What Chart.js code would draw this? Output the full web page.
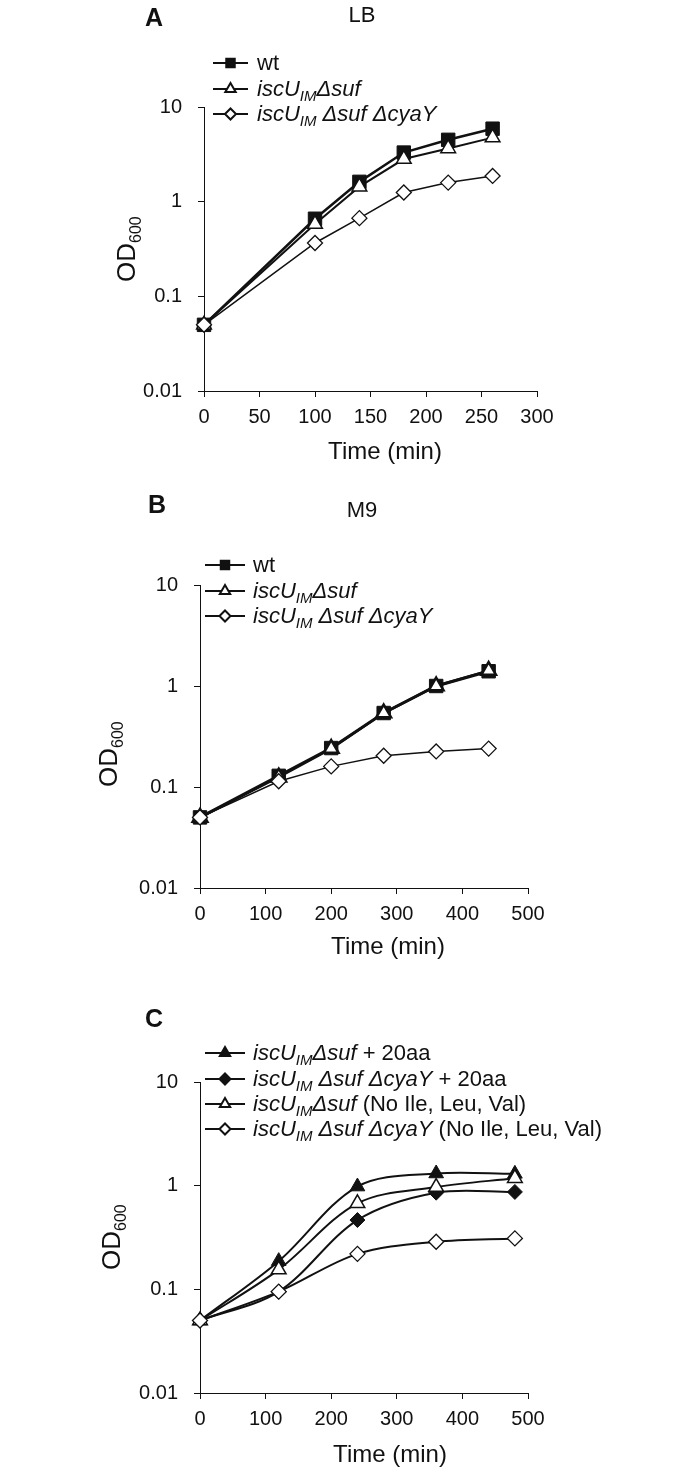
<!DOCTYPE html>
<html>
<head>
<meta charset="utf-8">
<script src="https://cdn.jsdelivr.net/npm/chart.js@4.4.1/dist/chart.umd.min.js"></script>
<style>
  html, body { margin: 0; padding: 0; background: #fff; }
  body { width: 700px; height: 1473px; position: relative; overflow: hidden; }
  canvas { position: absolute; left: 0; }
</style>
</head>
<body>
<canvas id="chartA" width="700" height="480" style="top:0px"></canvas>
<canvas id="chartB" width="700" height="500" style="top:480px"></canvas>
<canvas id="chartC" width="700" height="493" style="top:980px"></canvas>
<script>
// Panel A - LB medium
const timeA = [0, 100, 140, 180, 220, 260];
const wtA   = [0.05, 0.66, 1.62, 3.3, 4.5, 5.9];
const sufA  = [0.05, 0.58, 1.44, 2.82, 3.65, 4.75];
const cyaA  = [0.05, 0.366, 0.67, 1.25, 1.59, 1.87];

// Panel B - M9 medium
const timeB = [0, 120, 200, 280, 360, 440];
const wtB   = [0.05, 0.129, 0.243, 0.54, 1.0, 1.40];
const sufB  = [0.05, 0.125, 0.24, 0.54, 1.0, 1.42];
const cyaB  = [0.05, 0.114, 0.16, 0.204, 0.225, 0.24];

// Panel C - M9 +/- amino acids
const timeC   = [0, 120, 240, 360, 480];
const suf20C  = [0.05, 0.187, 0.98, 1.31, 1.3];
const cya20C  = [0.05, 0.095, 0.466, 0.856, 0.87];
const sufNoC  = [0.05, 0.155, 0.675, 0.97, 1.18];
const cyaNoC  = [0.05, 0.095, 0.22, 0.288, 0.31];

// Axis ticks
const yTicks   = [0.01, 0.1, 1, 10];
const xTicksA  = [0, 50, 100, 150, 200, 250, 300];
const xTicksBC = [0, 100, 200, 300, 400, 500];

// Legend text: [text, style] with style '' normal, 'i' italic, 's' italic subscript
const legendAB = [
    [['wt', '']],
    [['iscU', 'i'], ['IM', 's'], ['Δsuf', 'i']],
    [['iscU', 'i'], ['IM', 's'], [' Δsuf ΔcyaY', 'i']]
];
const legendC = [
    [['iscU', 'i'], ['IM', 's'], ['Δsuf', 'i'], [' + 20aa', '']],
    [['iscU', 'i'], ['IM', 's'], [' Δsuf ΔcyaY', 'i'], [' + 20aa', '']],
    [['iscU', 'i'], ['IM', 's'], ['Δsuf', 'i'], [' (No Ile, Leu, Val)', '']],
    [['iscU', 'i'], ['IM', 's'], [' Δsuf ΔcyaY', 'i'], [' (No Ile, Leu, Val)', '']]
];

const FONT = '"Liberation Sans", Arial, sans-serif';
const INK = '#111';

function pts(xs, ys) {
    return xs.map((x, i) => ({ x: x, y: ys[i] }));
}

function series(label, xs, ys, style) {
    return Object.assign({
        label: label,
        data: pts(xs, ys),
        borderColor: INK,
        pointBorderColor: INK,
        clip: false,
        tension: 0
    }, style);
}

const squareStyle   = { pointStyle: 'rect', pointRadius: 9.5, pointBackgroundColor: INK, pointBorderWidth: 1 };
const triOpenStyle  = { pointStyle: 'triangle', pointRadius: 8.5, pointBackgroundColor: '#fff', pointBorderWidth: 1.5 };
const diaOpenStyle  = { pointStyle: 'rectRot', pointRadius: 7.5, pointBackgroundColor: '#fff', pointBorderWidth: 1.3 };
const triFillStyle  = { pointStyle: 'triangle', pointRadius: 8.5, pointBackgroundColor: INK, pointBorderWidth: 1 };
const diaFillStyle  = { pointStyle: 'rectRot', pointRadius: 7.5, pointBackgroundColor: INK, pointBorderWidth: 1 };

function drawSegments(ctx, segs, x, y) {
    segs.forEach(([t, s]) => {
        const size = s === 's' ? 15 : 22;
        ctx.font = (s ? 'italic ' : '') + size + 'px ' + FONT;
        ctx.fillText(t, x, s === 's' ? y + 5 : y);
        x += ctx.measureText(t).width;
    });
}

// Draws the panel letter, medium label, axis titles and the legend
const panelText = {
    id: 'panelText',
    afterDraw(chart, args, o) {
        const ctx = chart.ctx;
        ctx.save();
        ctx.fillStyle = INK;
        ctx.strokeStyle = INK;
        ctx.textAlign = 'center';
        ctx.textBaseline = 'middle';
        ctx.font = 'bold 25px ' + FONT;
        ctx.fillText(o.letter[0], o.letter[1], o.letter[2]);
        if (o.medium) {
            ctx.font = '22px ' + FONT;
            ctx.fillText(o.medium[0], o.medium[1], o.medium[2]);
        }
        ctx.font = '24px ' + FONT;
        ctx.fillText('Time (min)', o.xTitle[0], o.xTitle[1]);

        // y title, rotated
        ctx.save();
        ctx.translate(o.yTitle[0], o.yTitle[1]);
        ctx.rotate(-Math.PI / 2);
        ctx.textAlign = 'left';
        ctx.textBaseline = 'alphabetic';
        ctx.font = '26px ' + FONT;
        ctx.fillText('OD', 0, 0);
        const w = ctx.measureText('OD').width;
        ctx.font = '16px ' + FONT;
        ctx.fillText('600', w, 6);
        ctx.restore();

        // legend
        const lg = o.legend;
        ctx.textAlign = 'left';
        ctx.textBaseline = 'alphabetic';
        lg.rows.forEach((y, i) => {
            const ds = chart.data.datasets[i];
            ctx.lineWidth = 2;
            ctx.beginPath();
            ctx.moveTo(lg.x0, y);
            ctx.lineTo(lg.x1, y);
            ctx.stroke();
            ctx.fillStyle = ds.pointBackgroundColor;
            ctx.strokeStyle = INK;
            Chart.helpers.drawPoint(ctx, {
                pointStyle: ds.pointStyle,
                radius: ds.pointStyle === 'rectRot' ? 5.5 : 6,
                borderWidth: 1.2,
                rotation: 0
            }, (lg.x0 + lg.x1) / 2, y);
            ctx.fillStyle = INK;
            drawSegments(ctx, lg.labels[i], lg.tx, y + 7);
        });
        ctx.restore();
    }
};

function makeChart(id, cfg) {
    const tickFont = { family: FONT, size: 20 };
    return new Chart(document.getElementById(id), {
        type: 'line',
        data: { datasets: cfg.datasets },
        options: {
            responsive: false,
            animation: false,
            events: [],
            layout: { padding: { left: 0, right: cfg.padRight, top: cfg.padTop, bottom: 0 } },
            plugins: {
                legend: { display: false },
                tooltip: { enabled: false },
                panelText: cfg.text
            },
            scales: {
                x: {
                    type: 'linear',
                    min: cfg.xTicks[0],
                    max: cfg.xTicks[cfg.xTicks.length - 1],
                    afterBuildTicks: s => { s.ticks = cfg.xTicks.map(v => ({ value: v })); },
                    ticks: { font: tickFont, color: INK, padding: 8, maxRotation: 0 },
                    grid: { drawOnChartArea: false, tickLength: 6, color: INK },
                    border: { color: INK, width: 1 },
                    afterFit: s => { s.height = cfg.xHeight; }
                },
                y: {
                    type: 'logarithmic',
                    min: yTicks[0],
                    max: yTicks[yTicks.length - 1],
                    afterBuildTicks: s => { s.ticks = yTicks.map(v => ({ value: v })); },
                    ticks: { font: tickFont, color: INK, padding: 16, callback: v => String(v) },
                    grid: { drawOnChartArea: false, tickLength: 6, color: INK },
                    border: { color: INK, width: 1 },
                    afterFit: s => { s.width = cfg.yWidth; }
                }
            }
        },
        plugins: [panelText]
    });
}

makeChart('chartA', {
    xTicks: xTicksA,
    yWidth: 204, padRight: 163, padTop: 107, xHeight: 89,
    datasets: [
        series('wt', timeA, wtA, Object.assign({ borderWidth: 2.5, order: 2 }, squareStyle)),
        series('iscU IM Δsuf', timeA, sufA, Object.assign({ borderWidth: 2, order: 1 }, triOpenStyle)),
        series('iscU IM Δsuf ΔcyaY', timeA, cyaA, Object.assign({ borderWidth: 1.5, order: 0 }, diaOpenStyle))
    ],
    text: {
        letter: ['A', 154, 19],
        medium: ['LB', 362, 16],
        xTitle: [385, 452],
        yTitle: [135, 282],
        legend: { rows: [63, 89, 114], x0: 213, x1: 248, tx: 257, labels: legendAB }
    }
});

makeChart('chartB', {
    xTicks: xTicksBC,
    yWidth: 200, padRight: 172, padTop: 105, xHeight: 92,
    datasets: [
        series('wt', timeB, wtB, Object.assign({ borderWidth: 3, order: 2 }, squareStyle)),
        series('iscU IM Δsuf', timeB, sufB, Object.assign({ borderWidth: 2.5, order: 1 }, triOpenStyle, { pointBorderWidth: 2.5 })),
        series('iscU IM Δsuf ΔcyaY', timeB, cyaB, Object.assign({ borderWidth: 1.5, order: 0 }, diaOpenStyle))
    ],
    text: {
        letter: ['B', 157, 26],
        medium: ['M9', 362, 31],
        xTitle: [388, 467],
        yTitle: [117, 307],
        legend: { rows: [85, 111, 136], x0: 205, x1: 245, tx: 253, labels: legendAB }
    }
});

makeChart('chartC', {
    xTicks: xTicksBC,
    yWidth: 200, padRight: 172, padTop: 102, xHeight: 80,
    datasets: [
        series('iscU IM Δsuf + 20aa', timeC, suf20C, Object.assign({ borderWidth: 2, order: 3, tension: 0.33 }, triFillStyle)),
        series('iscU IM Δsuf ΔcyaY + 20aa', timeC, cya20C, Object.assign({ borderWidth: 2, order: 2, tension: 0.33 }, diaFillStyle)),
        series('iscU IM Δsuf (No Ile, Leu, Val)', timeC, sufNoC, Object.assign({ borderWidth: 2, order: 1, tension: 0.33 }, triOpenStyle)),
        series('iscU IM Δsuf ΔcyaY (No Ile, Leu, Val)', timeC, cyaNoC, Object.assign({ borderWidth: 2, order: 0, tension: 0.33 }, diaOpenStyle))
    ],
    text: {
        letter: ['C', 154, 40],
        xTitle: [390, 475],
        yTitle: [120, 290],
        legend: { rows: [73, 99, 124, 149], x0: 205, x1: 245, tx: 253, labels: legendC }
    }
});
</script>
</body>
</html>
